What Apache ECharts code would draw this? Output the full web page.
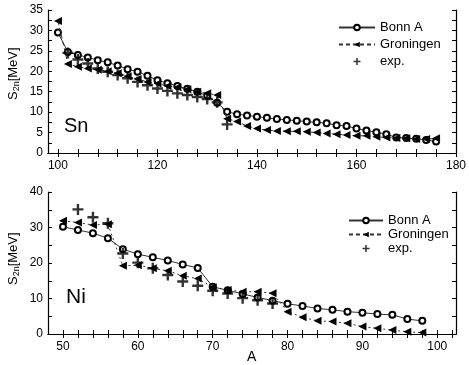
<!DOCTYPE html>
<html>
<head>
<meta charset="utf-8">
<script src="https://cdn.jsdelivr.net/npm/echarts@6/dist/echarts.min.js"></script>
<style>
  html, body { margin: 0; padding: 0; background: #fff; }
  #chart { width: 469px; height: 365px; }
</style>
</head>
<body>
<div id="chart"></div>
<script>
// Sn isotopes (upper panel)
const snA = [100, 102, 104, 106, 108, 110, 112, 114, 116, 118, 120, 122, 124, 126, 128, 130, 132, 134, 136, 138,
  140, 142, 144, 146, 148, 150, 152, 154, 156, 158, 160, 162, 164, 166, 168, 170, 172, 174, 176];
const snBonn = [29.5, 24.7, 24.0, 23.4, 22.7, 22.2, 21.4, 20.5, 19.9, 18.9, 17.8, 17.1, 16.4, 15.7, 15.0, 14.0, 12.3, 10.1, 9.5, 9.2,
  8.9, 8.6, 8.3, 8.1, 7.9, 7.7, 7.5, 7.3, 6.8, 6.6, 6.0, 5.5, 5.1, 4.6, 3.8, 3.7, 3.5, 3.2, 2.8];
const snGron = [32.3, 21.8, 21.1, 20.7, 20.4, 20.0, 19.5, 18.8, 18.1, 17.4, 17.0, 16.4, 16.1, 15.6, 15.0, 14.6, 14.2, 8.4, 7.7, 6.6,
  6.0, 5.6, 5.4, 5.3, 5.3, 5.2, 5.0, 4.8, 4.6, 4.4, 4.2, 4.2, 4.0, 3.8, 3.7, 3.6, 3.4, 3.4, 3.6];
const snExpA = [102, 104, 106, 108, 110, 112, 114, 116, 118, 120, 122, 124, 126, 128, 130, 132, 134];
const snExp = [24.5, 22.9, 21.9, 20.7, 19.9, 19.1, 18.3, 17.4, 16.6, 15.8, 15.2, 14.6, 14.2, 13.7, 13.2, 12.4, 7.0];

// Ni isotopes (lower panel)
const niA = [50, 52, 54, 56, 58, 60, 62, 64, 66, 68, 70, 72, 74, 76, 78, 80, 82, 84, 86, 88, 90, 92, 94, 96, 98];
const niBonn = [30.2, 29.3, 28.4, 27.0, 23.9, 22.5, 21.6, 20.7, 19.6, 18.6, 13.3, 12.3, 11.3, 10.3, 9.4, 8.5, 7.9, 7.2,
  6.8, 6.3, 6.0, 5.6, 5.4, 4.2, 3.7];
const niGron = [31.9, 31.4, 30.7, 30.9, 19.2, 19.4, 18.5, 17.8, 16.4, 15.6, 13.2, 12.4, 11.9, 11.9, 11.5, 6.3, 4.7, 3.7,
  3.5, 3.0, 2.1, 1.6, 1.1, 0.6, 0.4];
const niExpA = [52, 54, 56, 58, 60, 62, 64, 66, 68, 70, 72, 74, 76, 78];
const niExp = [35.1, 32.9, 31.2, 22.7, 20.1, 18.5, 16.6, 14.8, 13.6, 12.2, 11.4, 10.1, 9.5, 8.6];

// tick positions / labels
const snTicks = [100, 104, 108, 112, 116, 120, 124, 128, 132, 136, 140, 144, 148, 152, 156, 160, 164, 168, 172, 176, 180];
const snLabels = [100, 120, 140, 160, 180];
const snYTicks = [0, 2.5, 5, 7.5, 10, 12.5, 15, 17.5, 20, 22.5, 25, 27.5, 30, 32.5, 35];
const snYLabels = [0, 5, 10, 15, 20, 25, 30, 35];
const niTicks = [50, 52, 54, 56, 58, 60, 62, 64, 66, 68, 70, 72, 74, 76, 78, 80, 82, 84, 86, 88, 90, 92, 94, 96, 98, 100, 102];
const niLabels = [50, 60, 70, 80, 90, 100];
const niYTicks = [0, 5, 10, 15, 20, 25, 30, 35, 40];
const niYLabels = [0, 10, 20, 30, 40];

const legendNames = ['Bonn A', 'Groningen', 'exp.'];

const zip = (xs, ys) => xs.map((x, i) => [x, ys[i]]);
const FONT = 'Liberation Sans, Arial, sans-serif';
const crossPath = 'path://M3.9,0h2.2v3.9h3.9v2.2h-3.9v3.9h-2.2v-3.9h-3.9v-2.2h3.9z';

const chart = echarts.init(document.getElementById('chart'), null, { renderer: 'canvas' });

function xAxisPair(grid, min, max, ticks, labels) {
  const base = {
    gridIndex: grid,
    type: 'value',
    min: min,
    max: max,
    splitLine: { show: false },
    axisLine: { lineStyle: { color: '#000', width: 1.2 } },
    axisTick: { inside: true, length: 4, customValues: ticks, lineStyle: { color: '#000' } }
  };
  return [
    Object.assign({}, base, {
      position: 'bottom',
      axisLabel: { customValues: labels, color: '#000', fontSize: 12, fontFamily: FONT, margin: 7 }
    }),
    Object.assign({}, base, { position: 'top', axisLabel: { show: false } })
  ];
}

function yAxisPair(grid, min, max, ticks, labels) {
  const base = {
    gridIndex: grid,
    type: 'value',
    min: min,
    max: max,
    splitLine: { show: false },
    axisLine: { lineStyle: { color: '#000', width: 1.2 } },
    axisTick: { inside: true, length: 4, customValues: ticks, lineStyle: { color: '#000' } }
  };
  return [
    Object.assign({}, base, {
      position: 'left',
      axisLabel: { customValues: labels, color: '#000', fontSize: 12, fontFamily: FONT, margin: 5 }
    }),
    Object.assign({}, base, { position: 'right', axisLabel: { show: false } })
  ];
}

function panelSeries(xi, yi, bonn, gron, exp, gronDash) {
  return [
    {
      name: 'Bonn A', type: 'line', xAxisIndex: xi, yAxisIndex: yi, data: bonn,
      symbol: 'emptyCircle', symbolSize: 6, showAllSymbol: true, z: 3,
      lineStyle: { color: '#333', width: 1 },
      itemStyle: { color: '#000', borderWidth: 1.2 }
    },
    {
      name: 'Groningen', type: 'line', xAxisIndex: xi, yAxisIndex: yi, data: gron,
      symbol: 'triangle', symbolRotate: 90, symbolSize: [8, 8], showAllSymbol: true, z: 4,
      lineStyle: { color: '#333', width: 1, type: gronDash },
      itemStyle: { color: '#000' }
    },
    {
      name: 'exp.', type: 'scatter', xAxisIndex: xi, yAxisIndex: yi, data: exp,
      symbol: crossPath, symbolSize: 11, z: 5,
      itemStyle: { color: '#000' }
    }
  ];
}

const sn = xAxisPair(0, 98, 180, snTicks, snLabels);
const ni = xAxisPair(1, 48, 102.5, niTicks, niLabels);
const snY = yAxisPair(0, 0, 35, snYTicks, snYLabels);
const niY = yAxisPair(1, 0, 40, niYTicks, niYLabels);

const yName = {
  text: '{s|S}{sub|2n}{s|[MeV]}',
  rich: {
    s: { fontSize: 13, fontFamily: FONT, fill: '#000' },
    sub: { fontSize: 9, fontFamily: FONT, fill: '#000', padding: [6, 0, 0, 0] }
  }
};

const option = {
  animation: false,
  backgroundColor: '#fff',
  grid: [
    { left: 48, top: 10, width: 408, height: 143 },
    { left: 48, top: 192, width: 408, height: 142 }
  ],
  xAxis: [sn[0], sn[1], ni[0], ni[1]],
  yAxis: [snY[0], snY[1], niY[0], niY[1]],
  legend: [
    {
      data: legendNames, orient: 'vertical', left: 333, top: 16,
      itemWidth: 36, itemHeight: 7, itemGap: 4,
      textStyle: { fontSize: 13, fontFamily: FONT, color: '#000' }
    },
    {
      data: legendNames, orient: 'vertical', left: 343, top: 209,
      itemWidth: 34, itemHeight: 7, itemGap: 1,
      textStyle: { fontSize: 13, fontFamily: FONT, color: '#000' }
    }
  ],
  graphic: [
    { type: 'text', left: 64, top: 116, style: { text: 'Sn', fontSize: 20, fontFamily: FONT, fill: '#000' } },
    { type: 'text', left: 66, top: 287, style: { text: 'Ni', fontSize: 21, fontFamily: FONT, fill: '#000' } },
    { type: 'text', left: 247, top: 350, style: { text: 'A', fontSize: 14, fontFamily: FONT, fill: '#000' } },
    { type: 'text', x: 6, y: 100, rotation: Math.PI / 2, style: yName },
    { type: 'text', x: 6, y: 285, rotation: Math.PI / 2, style: yName }
  ],
  series: [].concat(
    panelSeries(0, 0, zip(snA, snBonn), zip(snA, snGron), zip(snExpA, snExp), [4, 3]),
    panelSeries(2, 2, zip(niA, niBonn), zip(niA, niGron), zip(niExpA, niExp), [2, 3])
  )
};

chart.setOption(option);
</script>
</body>
</html>
